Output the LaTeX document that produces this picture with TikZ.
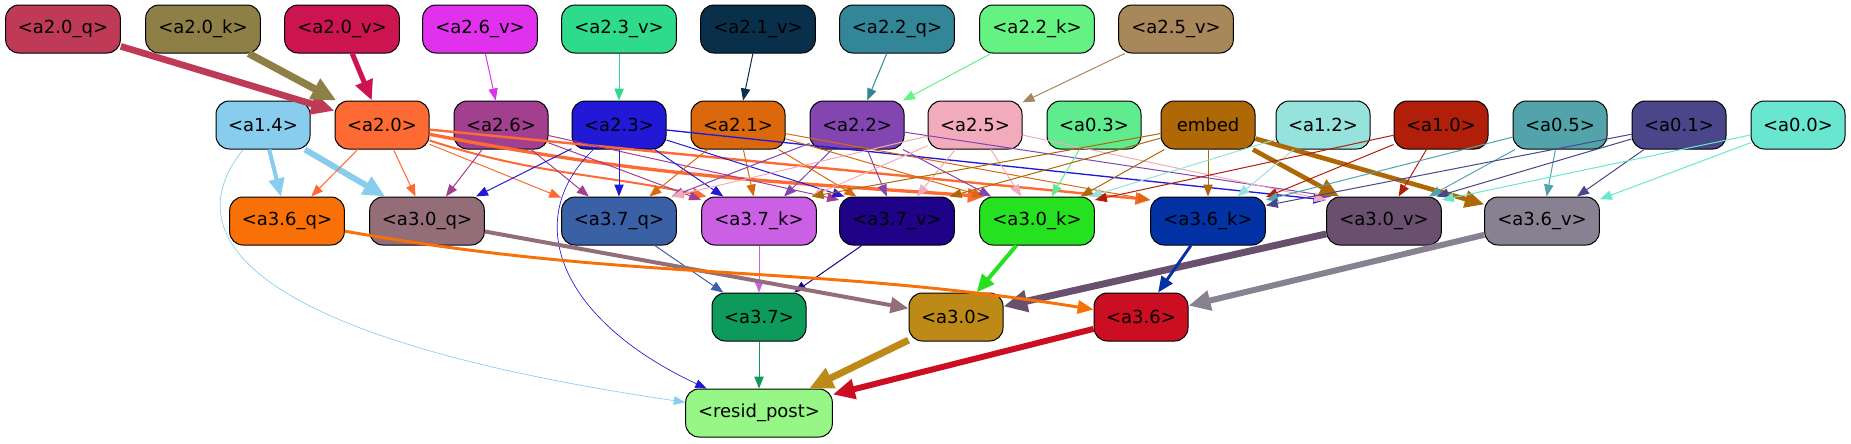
\documentclass[tikz,border=0pt]{standalone}
\usepackage{fontspec}
\setmainfont{DejaVu Sans}
\usepackage{xcolor}
\definecolor{c20q}{HTML}{BE3A56}
\definecolor{c20k}{HTML}{8E7F46}
\definecolor{c20v}{HTML}{CB1450}
\definecolor{c26v}{HTML}{E032EC}
\definecolor{c23v}{HTML}{2EDB8A}
\definecolor{c21v}{HTML}{0A2F4B}
\definecolor{c22q}{HTML}{338598}
\definecolor{c22k}{HTML}{64F383}
\definecolor{c25v}{HTML}{A8875A}
\definecolor{c14}{HTML}{88CDEE}
\definecolor{c20}{HTML}{FE6A33}
\definecolor{c26}{HTML}{A33F8F}
\definecolor{c23}{HTML}{2219D6}
\definecolor{c21}{HTML}{DC680E}
\definecolor{c22}{HTML}{8345AF}
\definecolor{c25}{HTML}{F2ABBB}
\definecolor{c03}{HTML}{5FEB8E}
\definecolor{cemb}{HTML}{AF6806}
\definecolor{c12}{HTML}{96E2DC}
\definecolor{c10}{HTML}{B11E0A}
\definecolor{c05}{HTML}{52A3AA}
\definecolor{c01}{HTML}{494789}
\definecolor{c00}{HTML}{69E6CF}
\definecolor{c36q}{HTML}{F87006}
\definecolor{c30q}{HTML}{936E78}
\definecolor{c37q}{HTML}{3A60A6}
\definecolor{c37k}{HTML}{CB60E5}
\definecolor{c37v}{HTML}{1E0288}
\definecolor{c30k}{HTML}{26E120}
\definecolor{c36k}{HTML}{0232A3}
\definecolor{c30v}{HTML}{69506E}
\definecolor{c36v}{HTML}{888192}
\definecolor{c37}{HTML}{0E9A5B}
\definecolor{c30}{HTML}{BE8A17}
\definecolor{c36}{HTML}{CB0E22}
\definecolor{cres}{HTML}{96F787}
\usetikzlibrary{arrows.meta}

\begin{document}
\begin{tikzpicture}[x=0.75pt,y=-0.75pt,>={Triangle[length=7.5pt 2,width=5.5pt 2]},
	box/.style={draw=black,line width=0.75pt,rounded corners=10pt,minimum height=36pt,
		minimum width=70.5pt,inner sep=0pt,font=\fontsize{13.5}{16}\selectfont},
	wbox/.style={box,minimum width=86pt},
	e/.style={->,line width=0.75pt}]
	\useasboundingbox (0,0) rectangle (1851,443);
	
	\node[wbox,fill=c20q] (a20q) at (63,29) {<a2.0\_q>};
	\node[wbox,fill=c20k] (a20k) at (203,29) {<a2.0\_k>};
	\node[wbox,fill=c20v] (a20v) at (342,29) {<a2.0\_v>};
	\node[wbox,fill=c26v] (a26v) at (480,29) {<a2.6\_v>};
	\node[wbox,fill=c23v] (a23v) at (619,29) {<a2.3\_v>};
	\node[wbox,fill=c21v] (a21v) at (758,29) {<a2.1\_v>};
	\node[wbox,fill=c22q] (a22q) at (897,29) {<a2.2\_q>};
	\node[wbox,fill=c22k] (a22k) at (1037,29) {<a2.2\_k>};
	\node[wbox,fill=c25v] (a25v) at (1176,29) {<a2.5\_v>};
	
	\node[box,fill=c14] (a14) at (263,125) {<a1.4>};
	\node[box,fill=c20] (a20) at (382,125) {<a2.0>};
	\node[box,fill=c26] (a26) at (501,125) {<a2.6>};
	\node[box,fill=c23] (a23) at (619,125) {<a2.3>};
	\node[box,fill=c21] (a21) at (738,125) {<a2.1>};
	\node[box,fill=c22] (a22) at (857,125) {<a2.2>};
	\node[box,fill=c25] (a25) at (975,125) {<a2.5>};
	\node[box,fill=c03] (a03) at (1094,125) {<a0.3>};
	\node[box,fill=cemb] (emb) at (1208,125) {embed};
	\node[box,fill=c12] (a12) at (1323,125) {<a1.2>};
	\node[box,fill=c10] (a10) at (1441,125) {<a1.0>};
	\node[box,fill=c05] (a05) at (1560,125) {<a0.5>};
	\node[box,fill=c01] (a01) at (1679,125) {<a0.1>};
	\node[box,fill=c00] (a00) at (1798,125) {<a0.0>};
	
	\node[wbox,fill=c36q] (a36q) at (287,221) {<a3.6\_q>};
	\node[wbox,fill=c30q] (a30q) at (427,221) {<a3.0\_q>};
	\node[wbox,fill=c37q] (a37q) at (619,221) {<a3.7\_q>};
	\node[wbox,fill=c37k] (a37k) at (759,221) {<a3.7\_k>};
	\node[wbox,fill=c37v] (a37v) at (897,221) {<a3.7\_v>};
	\node[wbox,fill=c30k] (a30k) at (1037,221) {<a3.0\_k>};
	\node[wbox,fill=c36k] (a36k) at (1208,221) {<a3.6\_k>};
	\node[wbox,fill=c30v] (a30v) at (1384,221) {<a3.0\_v>};
	\node[wbox,fill=c36v] (a36v) at (1542,221) {<a3.6\_v>};
	
	\node[box,fill=c37] (a37) at (759,317) {<a3.7>};
	\node[box,fill=c30] (a30) at (956,317) {<a3.0>};
	\node[box,fill=c36] (a36) at (1141,317) {<a3.6>};
	
	\node[box,fill=cres,minimum width=110pt] (resid) at (759,413) {<resid\_post>};
	
%	=======================================

	\draw[e,c20q,line width=5pt] (a20q) -- (a20);
	\draw[e,c20k,line width=5.5pt] (a20k) -- (a20);
	\draw[e,c20v,line width=3.8pt] (a20v) -- (a20);
	\draw[e,c26v] (a26v) -- (a26);
	\draw[e,c23v] (a23v) -- (a23);
	\draw[e,c21v] (a21v) -- (a21);
	\draw[e,c22q] (a22q) -- (a22);
	\draw[e,c22k] (a22k) -- (a22);
	\draw[e,c25v] (a25v) -- (a25);
	
	\draw[e,c14,line width=3pt] (a14) -- (a36q);
	\draw[e,c14,line width=4.5pt] (a14) -- (a30q);
	\draw[e,c14,line width=0.5pt] (a14) .. controls (170,240) and (260,340) .. (resid);
	
	\draw[e,c20] (a20) -- (a36q);
	\draw[e,c20] (a20) -- (a30q);
	\draw[e,c20] (a20) -- (a37q);
	\draw[e,c20,line width=1.5pt] (a20) to[out=-18,in=168] (a37k.155);
	\draw[e,c20,line width=2.5pt] (a20) to[out=-11,in=176] (a30k.155);
	\draw[e,c20,line width=1.8pt] (a20) -- (a36k.160);
	
	\draw[e,c26] (a26) -- (a30q);
	\draw[e,c26] (a26) -- (a37q);
	\draw[e,c26] (a26) -- (a37k.160);
	\draw[e,c26] (a26) -- (a37v.160);
	
	\draw[e,c23] (a23) -- (a30q);
	\draw[e,c23] (a23) -- (a37q);
	\draw[e,c23] (a23) -- (a37k);
	\draw[e,c23] (a23) -- (a37v.155);
	\draw[e,c23,line width=1pt] (a23) -- (a30v.160);
	\draw[e,c23,line width=0.5pt] (a23) .. controls (520,220) and (560,320) .. (resid);
	
	\draw[e,c21] (a21) -- (a37q);
	\draw[e,c21] (a21) -- (a37k);
	\draw[e,c21] (a21) -- (a37v);
	\draw[e,c21] (a21) -- (a30k.155);
	\draw[e,c21] (a21) -- (a36k.160);
	
	\draw[e,c22] (a22) -- (a37q.25);
	\draw[e,c22] (a22) -- (a37k);
	\draw[e,c22] (a22) -- (a37v);
	\draw[e,c22] (a22) -- (a30k);
	\draw[e,c22] (a22) -- (a30v.155);
	
	\draw[e,c25] (a25) -- (a37q.25);
	\draw[e,c25] (a25) -- (a37k.25);
	\draw[e,c25] (a25) -- (a37v);
	\draw[e,c25] (a25) -- (a30k);
	\draw[e,c25] (a25) -- (a30v.160);
	
	\draw[e,c03] (a03) -- (a30k);
	
	\draw[e,cemb] (emb) -- (a37k.25);
	\draw[e,cemb] (emb) -- (a37v.25);
	\draw[e,cemb] (emb) -- (a30k);
	\draw[e,cemb] (emb) -- (a36k);
	\draw[e,cemb,line width=3.5pt] (emb) -- (a30v);
	\draw[e,cemb,line width=3.5pt] (emb) -- (a36v);
	
	\draw[e,c12] (a12) -- (a30k.25);
	\draw[e,c12] (a12) -- (a36k);
	\draw[e,c10] (a10) -- (a30k.20);
	\draw[e,c10] (a10) -- (a36k);
	\draw[e,c10] (a10) -- (a30v);
	\draw[e,c05] (a05) -- (a36k.20);
	\draw[e,c05] (a05) -- (a30v);
	\draw[e,c05] (a05) -- (a36v);
	\draw[e,c01] (a01) -- (a36k.15);
	\draw[e,c01] (a01) -- (a30v.25);
	\draw[e,c01] (a01) -- (a36v);
	\draw[e,c00] (a00) -- (a30v.20);
	\draw[e,c00] (a00) -- (a36v);
	
%	=======================================

	\draw[e,c37q] (a37q) -- (a37);
	\draw[e,c37k] (a37k) -- (a37);
	\draw[e,c37v] (a37v) -- (a37);
	\draw[e,c30q,line width=3pt] (a30q) -- (a30);
	\draw[e,c30k,line width=3pt] (a30k) -- (a30);
	\draw[e,c30v,line width=5.2pt] (a30v) -- (a30);
	\draw[e,c36q,line width=2.2pt] (a36q) to[out=-10,in=171] (a36);
	\draw[e,c36k,line width=2.2pt] (a36k) -- (a36);
	\draw[e,c36v,line width=4.5pt] (a36v) -- (a36);
	
	\draw[e,c37] (a37) -- (resid);
	\draw[e,c30,line width=5.2pt] (a30) -- (resid);
	\draw[e,c36,line width=4.5pt] (a36) -- (resid);
\end{tikzpicture}
\end{document}
